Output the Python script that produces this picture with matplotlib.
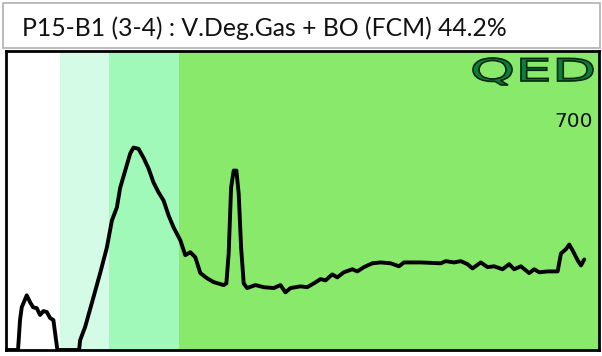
import matplotlib
matplotlib.use('Agg')
from matplotlib import pyplot as plt
from matplotlib.patches import Rectangle, PathPatch
from matplotlib.textpath import TextPath
from matplotlib.font_manager import FontProperties
from matplotlib.transforms import Affine2D, IdentityTransform

titulo = 'P15-B1 (3-4) : V.Deg.Gas + BO (FCM) 44.2%'
escala = '700'

# curva (x en unidades de canal, y 0..700)
xs = [0, 12, 14, 15.7, 20.7, 24, 27, 30.7, 34, 37.3,
      40.7, 44, 47.3, 49, 51.3, 73, 74, 79, 85.7, 94,
      100.7, 105.7, 110.7, 114, 119, 124, 127.3, 132.3, 137.3, 142.3,
      147.3, 152.3, 157.3, 162.3, 167.3, 174, 179, 184, 189, 194,
      200.7, 207.3, 217.3, 220, 222.3, 224.7, 227.3, 230, 232.3, 234.7,
      237.3, 240.7, 249, 257.3, 267.3, 274, 279, 284, 294, 300.7,
      307.3, 314, 319, 325.7, 330.7, 337.3, 345.7, 350.7, 357.3, 365.7,
      374, 384, 392.3, 397.3, 414, 434, 439, 447.3, 454, 460.7,
      465.7, 474, 480.7, 487.3, 495.7, 502.3, 507.3, 514, 522.3, 527.3,
      532.3, 540.7, 550.7, 554, 559, 562.3, 565.7, 570.7, 574, 577.3]
ys = [0, 0, 70, 100, 128, 112, 100, 98, 82, 91,
      89, 75, 70, 40, 0, 0, 23, 54, 110, 180,
      240, 303, 334, 380, 420, 460, 474, 471, 450, 425,
      392, 369, 350, 315, 287, 257, 222, 229, 217, 180,
      168, 159, 152, 156, 226, 380, 420, 420, 366, 240,
      156, 145, 152, 147, 145, 152, 135, 145, 149, 147,
      156, 166, 163, 177, 170, 182, 189, 184, 194, 203,
      205, 203, 196, 205, 205, 203, 208, 205, 208, 201,
      191, 205, 194, 196, 189, 201, 189, 196, 180, 189,
      182, 184, 184, 226, 236, 247, 233, 210, 198, 212]

# bandas de fondo (limites en x)
bandas = [0, 54, 103, 173, 592]
colores = ['#ffffff', '#d4fbe6', '#a0f9b8', '#88e96a']

fig = plt.figure(figsize=(6.02, 3.56), dpi=100)
W, H = 602, 356

# recuadro del titulo
fig.patches.append(Rectangle((3 / W, (H - 48) / H), 597 / W, 45 / H,
                             transform=fig.transFigure, fill=False,
                             edgecolor='#b0b0b0', lw=1.2))
fig.text(22 / W, (H - 36) / H, titulo, fontsize=17.8, family='Lato',
         va='baseline', ha='left', color='#111111')

ax = fig.add_axes([6 / W, (H - 350) / H, 593 / W, 299 / H])
for i in range(len(colores)):
    ax.axvspan(bandas[i], bandas[i + 1], color=colores[i], lw=0, zorder=0)
ax.plot(xs, ys, color='black', lw=2.8, solid_joinstyle='round',
        solid_capstyle='round', zorder=2)
ax.set_xlim(bandas[0], bandas[-1])
ax.set_ylim(0, 700)
ax.set_xticks([])
ax.set_yticks([])
for s in ax.spines.values():
    s.set_linewidth(2)
    s.set_color('black')

ax.text(0.99, 0.765, escala, transform=ax.transAxes, ha='right',
        va='center', fontsize=14.5, family='DejaVu Sans', color='#111111')

# logo QED ensanchado
tp = TextPath((0, 0), 'QED', size=10, prop=FontProperties(family='DejaVu Sans'))
bb = tp.get_extents()
sx = 120 / bb.width
sy = 27 / bb.height
tr = Affine2D().translate(-bb.x0, -bb.y0).scale(sx, sy).translate(473, H - 85)
fig.patches.append(PathPatch(tr.transform_path(tp), transform=IdentityTransform(),
                             facecolor='#0f7d3c', edgecolor='#03260f', lw=1.2))

fig.savefig('out.png', dpi=100)
